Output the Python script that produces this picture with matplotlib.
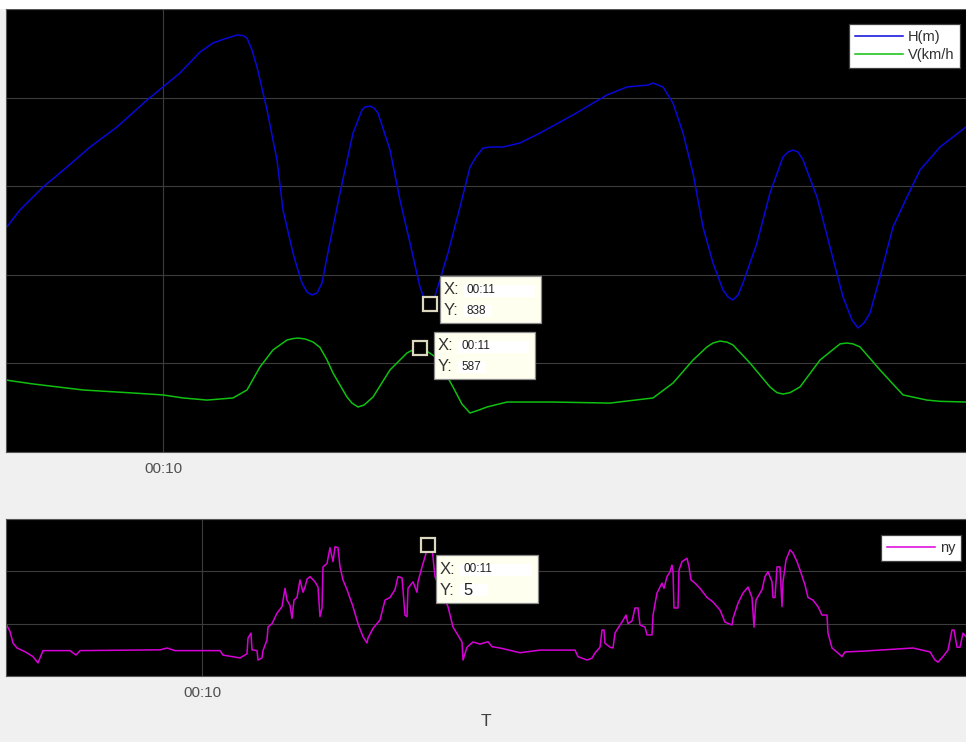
import numpy as np
import matplotlib.pyplot as plt
from matplotlib.patches import Rectangle
from matplotlib.ticker import FixedLocator, FuncFormatter
from matplotlib.transforms import IdentityTransform, ScaledTranslation

plt.rcParams['font.family'] = ['Liberation Sans', 'DejaVu Sans']

# top panel: altitude and speed vs time (seconds)
t_h = [9.372, 9.428, 9.520, 9.616, 9.708, 9.816, 9.936, 10.000, 10.068, 10.148, 10.200,
       10.248, 10.296, 10.320, 10.336, 10.356, 10.376, 10.416, 10.456, 10.480, 10.520,
       10.536, 10.556, 10.576, 10.596, 10.616, 10.636, 10.664, 10.708, 10.760, 10.796,
       10.808, 10.828, 10.844, 10.860, 10.908, 10.948, 10.988, 11.028, 11.044, 11.068,
       11.088, 11.140, 11.188, 11.228, 11.252, 11.280, 11.308, 11.360, 11.428, 11.508,
       11.640, 11.776, 11.856, 11.940, 11.960, 12.000, 12.040, 12.080, 12.120, 12.160,
       12.200, 12.240, 12.260, 12.280, 12.300, 12.320, 12.376, 12.428, 12.480, 12.500,
       12.520, 12.540, 12.560, 12.616, 12.668, 12.720, 12.756, 12.780, 12.804, 12.828,
       12.868, 12.920, 12.976, 13.028, 13.108, 13.212]
H = [1264, 1366, 1495, 1608, 1721, 1834, 1986, 2060, 2139, 2257, 2308,
     2332, 2353, 2350, 2336, 2268, 2173, 1930, 1648, 1366, 1123,
     1044, 954, 903, 886, 897, 954, 1157, 1462, 1800, 1930,
     1947, 1952, 1941, 1913, 1704, 1422, 1179, 931, 870, 838,
     880, 1123, 1383, 1608, 1665, 1715, 1721, 1721, 1744, 1800,
     1902, 2015, 2060, 2071, 2082, 2060, 1969, 1800, 1574, 1270,
     1066, 914, 875, 858, 886, 954, 1179, 1462, 1665, 1693,
     1704, 1693, 1648, 1439, 1157, 875, 745, 700, 728, 784,
     988, 1270, 1439, 1591, 1721, 1834]

t_v = [9.372, 9.480, 9.680, 9.880, 10.000, 10.080, 10.176, 10.280, 10.336, 10.388,
       10.440, 10.496, 10.520, 10.540, 10.568, 10.600, 10.628, 10.656, 10.680, 10.736,
       10.756, 10.780, 10.804, 10.840, 10.908, 10.976, 11.000, 11.028, 11.060, 11.096,
       11.160, 11.196, 11.228, 11.260, 11.296, 11.376, 11.560, 11.788, 11.960, 12.040,
       12.120, 12.176, 12.200, 12.228, 12.256, 12.280, 12.348, 12.428, 12.456, 12.480,
       12.508, 12.548, 12.628, 12.708, 12.736, 12.760, 12.788, 12.868, 12.960, 13.056,
       13.108, 13.212]
V = [406, 384, 350, 333, 322, 305, 293, 305, 350, 480,
     576, 632, 640, 643, 638, 621, 590, 520, 446, 310,
     276, 254, 265, 310, 463, 559, 576, 587, 565, 530,
     367, 270, 220, 235, 254, 282, 282, 276, 305, 389,
     519, 593, 615, 626, 620, 604, 502, 367, 335, 327,
     335, 367, 519, 610, 615, 610, 593, 463, 322, 293,
     286, 282]

# bottom panel: load factor
t_ny = [9.02, 9.04, 9.055, 9.075, 9.115, 9.155, 9.18, 9.20, 9.205, 9.34, 9.37, 9.39,
        9.79, 9.825, 9.865, 10.09, 10.105, 10.19, 10.225, 10.23, 10.245, 10.25, 10.275,
        10.28, 10.30, 10.305, 10.325, 10.33, 10.35, 10.375, 10.40, 10.415, 10.425, 10.44,
        10.45, 10.46, 10.475, 10.49, 10.505, 10.515, 10.525, 10.54, 10.565, 10.58, 10.59,
        10.60, 10.605, 10.625, 10.64, 10.655, 10.665, 10.68, 10.69, 10.705, 10.725, 10.755,
        10.78, 10.805, 10.825, 10.83, 10.855, 10.89, 10.915, 10.94, 10.965, 10.98, 11.00,
        11.015, 11.025, 11.03, 11.055, 11.075, 11.08, 11.10, 11.115, 11.13, 11.15, 11.165,
        11.23, 11.255, 11.30, 11.305, 11.325, 11.355, 11.39, 11.43, 11.45, 11.49, 11.59,
        11.69, 11.865, 11.88, 11.925, 11.95, 11.965, 11.99, 12.00, 12.01, 12.015, 12.04,
        12.055, 12.065, 12.08, 12.10, 12.12, 12.13, 12.15, 12.165, 12.18, 12.19, 12.215,
        12.225, 12.25, 12.255, 12.275, 12.30, 12.31, 12.325, 12.34, 12.35, 12.355, 12.36,
        12.38, 12.385, 12.40, 12.425, 12.435, 12.445, 12.465, 12.49, 12.525, 12.555, 12.59,
        12.615, 12.65, 12.655, 12.68, 12.705, 12.73, 12.75, 12.76, 12.77, 12.80, 12.815,
        12.83, 12.85, 12.855, 12.865, 12.875, 12.89, 12.90, 12.905, 12.92, 12.94, 12.955,
        12.975, 12.99, 13.015, 13.03, 13.055, 13.08, 13.10, 13.125, 13.13, 13.15, 13.18,
        13.20, 13.215, 13.305, 13.39, 13.555, 13.64, 13.665, 13.68, 13.705, 13.73, 13.75,
        13.76, 13.775, 13.79, 13.805, 13.82]
ny = [2.0, 1.7, 1.26, 1.07, 0.93, 0.74, 0.5, 0.88, 0.97, 0.97, 0.8, 0.97,
      1.0, 1.07, 0.97, 0.97, 0.8, 0.69, 0.85, 1.45, 1.64, 1.0, 0.97,
      0.61, 0.69, 0.97, 1.38, 1.87, 2.0, 2.4, 2.65, 3.35, 2.9, 2.7,
      2.2, 2.9, 3.0, 3.67, 3.2, 3.4, 3.7, 3.8, 3.6, 3.4, 2.27,
      2.6, 4.17, 4.3, 4.9, 4.37, 4.94, 4.9, 4.17, 3.67, 3.3, 2.65,
      2.0, 1.5, 1.26, 1.45, 1.82, 2.14, 2.9, 3.0, 3.3, 3.8, 3.75,
      2.33, 2.27, 3.35, 3.6, 3.2, 3.6, 4.17, 4.55, 5.0, 4.9, 3.8,
      2.65, 1.87, 1.3, 0.61, 1.1, 1.3, 1.22, 1.31, 1.12, 1.07, 0.89,
      0.99, 0.99, 0.74, 0.61, 0.68, 0.88, 1.1, 1.76, 1.76, 1.25, 1.1,
      1.07, 1.64, 1.83, 2.06, 2.33, 2.0, 2.1, 2.6, 2.6, 1.95, 1.87,
      1.57, 1.57, 2.33, 3.17, 3.55, 3.35, 3.8, 3.98, 4.24, 3.98, 2.6,
      2.6, 4.05, 4.37, 4.5, 4.17, 3.67, 3.55, 3.35, 3.0, 2.83, 2.52,
      2.06, 1.95, 2.2, 2.78, 3.17, 3.4, 3.0, 1.87, 2.9, 3.3, 3.8,
      3.98, 3.6, 3.0, 3.0, 4.17, 4.17, 2.65, 3.6, 4.43, 4.82, 4.7,
      4.37, 4.05, 3.48, 3.0, 2.9, 2.65, 2.33, 2.33, 1.64, 1.07, 0.88,
      0.74, 0.92, 0.95, 0.99, 1.07, 0.92, 0.61, 0.53, 0.74, 0.99, 1.76,
      1.76, 1.1, 1.1, 1.64, 1.5]

tip_h = (11.068, 838)
tip_v = (11.028, 587)
tip_ny = (11.13, 5)

bg = '#f0f0f0'
fig = plt.figure(figsize=(9.66, 7.42), dpi=100, facecolor=bg)
fig.patches.append(Rectangle((0, 733 / 742), 1, 9 / 742, transform=fig.transFigure,
                             facecolor='white', edgecolor='none'))

ax1 = fig.add_axes([6 / 966, 290 / 742, 960 / 966, 443 / 742])
ax2 = fig.add_axes([6 / 966, 66 / 742, 960 / 966, 157 / 742])

fmt = FuncFormatter(lambda v, pos: '00:%02d' % int(round(v)))
for ax in (ax1, ax2):
    ax.set_facecolor('black')
    ax.xaxis.set_major_locator(FixedLocator([10]))
    ax.xaxis.set_major_formatter(fmt)
    ax.tick_params(length=0, labelleft=False, labelsize=11, labelcolor='#505050', pad=7)
    ax.grid(True, color='#3c3c3c', linewidth=0.8)
    for s in ax.spines.values():
        s.set_color('#555555')
        s.set_linewidth(0.8)

ax1.plot(t_h, H, color='#0808d8', lw=1.1, label='H(m)')
ax1.plot(t_v, V, color='#10c010', lw=1.1, label='V(km/h')
ax1.set_xlim(9.372, 13.212)
ax1.set_ylim(0, 2500)
ax1.set_yticks([0, 500, 1000, 1500, 2000, 2500])

ax2.plot(t_ny, ny, color='#d800d8', lw=1.1, label='ny')
ax2.set_xlim(9.02, 13.82)
ax2.set_ylim(0, 6)
ax2.set_yticks([0, 2, 4, 6])
ax2.set_xlabel('T', fontsize=12.5, color='#404040', labelpad=10)

leg_kw = dict(loc='upper right', borderaxespad=0, fancybox=False, framealpha=1,
              edgecolor='#404040', fontsize=10.5, handlelength=3.3, handletextpad=0.3,
              labelspacing=0.3, borderpad=0.4)
l1 = ax1.legend(bbox_to_anchor=(1 - 6 / 960, 1 - 15 / 443), **leg_kw)
l2 = ax2.legend(bbox_to_anchor=(1 - 5 / 960, 1 - 16 / 157), **leg_kw)
for lg in (l1, l2):
    lg.get_frame().set_linewidth(0.9)
    for txt in lg.get_texts():
        txt.set_color('#303030')


def datatip(ax, x, y, xval, yval, dx, dy, w, h, yfs):
    # marker square on the point, info box offset in pixels (dy down from point to box top)
    ax.plot([x], [y], marker='s', ms=9.5, mfc='black', mec='#dcd8c0', mew=1.6,
            zorder=6, clip_on=False)
    off = IdentityTransform() + ScaledTranslation(x, y, ax.transData)
    top = -dy
    ax.add_patch(Rectangle((dx, top - h), w, h, transform=off, facecolor='#fffff0',
                           edgecolor='#8a8a8a', lw=0.9, zorder=7, clip_on=False))
    ax.add_patch(Rectangle((dx + 24, top - 21), w - 30, 12, transform=off,
                           facecolor='white', edgecolor='none', zorder=7.5, clip_on=False))
    ax.add_patch(Rectangle((dx + 24, top - 41), 28, 12, transform=off,
                           facecolor='white', edgecolor='none', zorder=7.5, clip_on=False))
    ax.text(dx + 4, top - 14, 'X:', transform=off, fontsize=12, color='#333333',
            va='center', zorder=8)
    ax.text(dx + 4, top - 35, 'Y:', transform=off, fontsize=12, color='#333333',
            va='center', zorder=8)
    ax.text(dx + 27, top - 14, xval, transform=off, fontsize=8.5, color='#222222',
            va='center', zorder=8)
    ax.text(dx + 27, top - 35, yval, transform=off, fontsize=yfs, color='#222222',
            va='center', zorder=8)


datatip(ax1, tip_h[0], tip_h[1], '00:11', str(tip_h[1]), 10, -28, 101, 47, 8.5)
datatip(ax1, tip_v[0], tip_v[1], '00:11', str(tip_v[1]), 14, -16, 101, 47, 8.5)
datatip(ax2, tip_ny[0], tip_ny[1], '00:11', str(tip_ny[1]), 8, 10, 102, 48, 12)

fig.savefig('out.png', dpi=100, facecolor=bg)
